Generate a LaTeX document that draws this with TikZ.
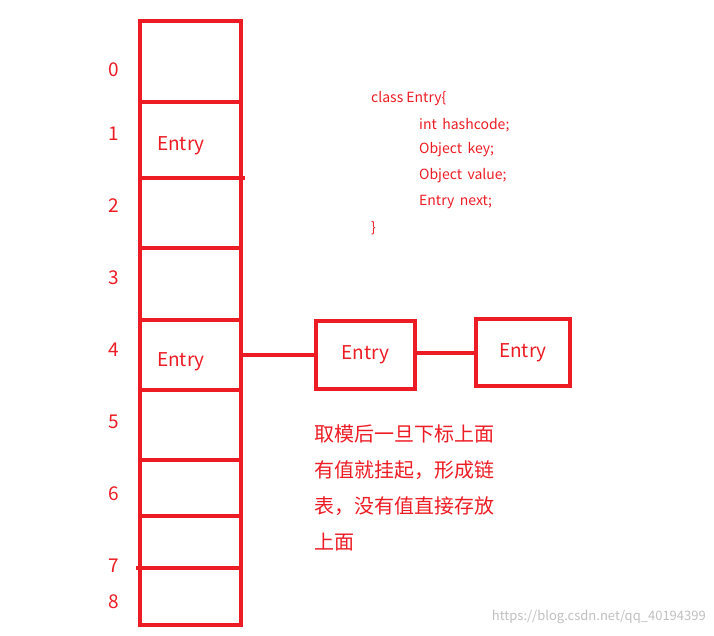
\documentclass[tikz,border=0pt]{standalone}
\usepackage{fontspec}
\setmainfont{Noto Sans CJK SC}
\definecolor{rd}{RGB}{237,28,36}
\begin{document}
\begin{tikzpicture}[x=1pt,y=-1pt,
  ln/.style={draw=rd,line width=4pt},
  lbl/.style={text=rd,font=\fontsize{19}{19}\selectfont,anchor=center},
  ent/.style={text=rd,font=\fontsize{19}{19}\selectfont},
  cls/.style={text=rd,font=\fontsize{14}{14}\selectfont,anchor=west,inner sep=0pt}]
\useasboundingbox (0,0) rectangle (714,635);
\draw[ln] (140,21) rectangle (241,625);
\foreach \y in {102,248,320,390,460,516} \draw[ln] (140,\y) -- (241,\y);
\draw[ln] (140,178) -- (245,178);
\draw[ln] (136,568) -- (241,568);
\foreach \n/\y in {0/70,1/134,2/206,3/278,4/350,5/422,6/494,7/566,8/602}
  \node[lbl] (l\n) at (114,\y) {\n};
\node[ent] (e1) at (181,146) {Entry};
\node[ent] (e4) at (181,362) {Entry};
\node[ln,ent,minimum width=99pt,minimum height=68pt,inner sep=0pt] (b1) at (365.5,355) {Entry};
\node[ln,ent,minimum width=94pt,minimum height=67pt,inner sep=0pt] (b2) at (523,352.5) {Entry};
\coordinate (c4) at (241,355);
\draw[ln] (c4) -- (b1.west |- c4);
\draw[ln] (b1.east |- 0,353) -- (b2.west |- 0,353);
\node[cls] (t0) at (371,99) {class Entry\{};
\node[cls] (t1) at (419,125) {int\, hashcode;};
\node[cls] (t2) at (419,150) {Object\, key;};
\node[cls] (t3) at (419,176) {Object\, value;};
\node[cls] (t4) at (419,202) {Entry\, next;};
\node[cls] (t5) at (371,228) {\}};
\node[text=rd,font=\fontsize{20}{36}\selectfont,align=left,anchor=north west,inner sep=0pt] (zh) at (314,424)
  {取模后一旦下标上面\\有值就挂起，形成链\\表，没有值直接存放\\上面};
\node[text=gray!50,font=\fontsize{13}{13}\selectfont,anchor=east,inner sep=0pt] (wm) at (706,617) {https://blog.csdn.net/qq\_40194399};
\end{tikzpicture}
\end{document}
